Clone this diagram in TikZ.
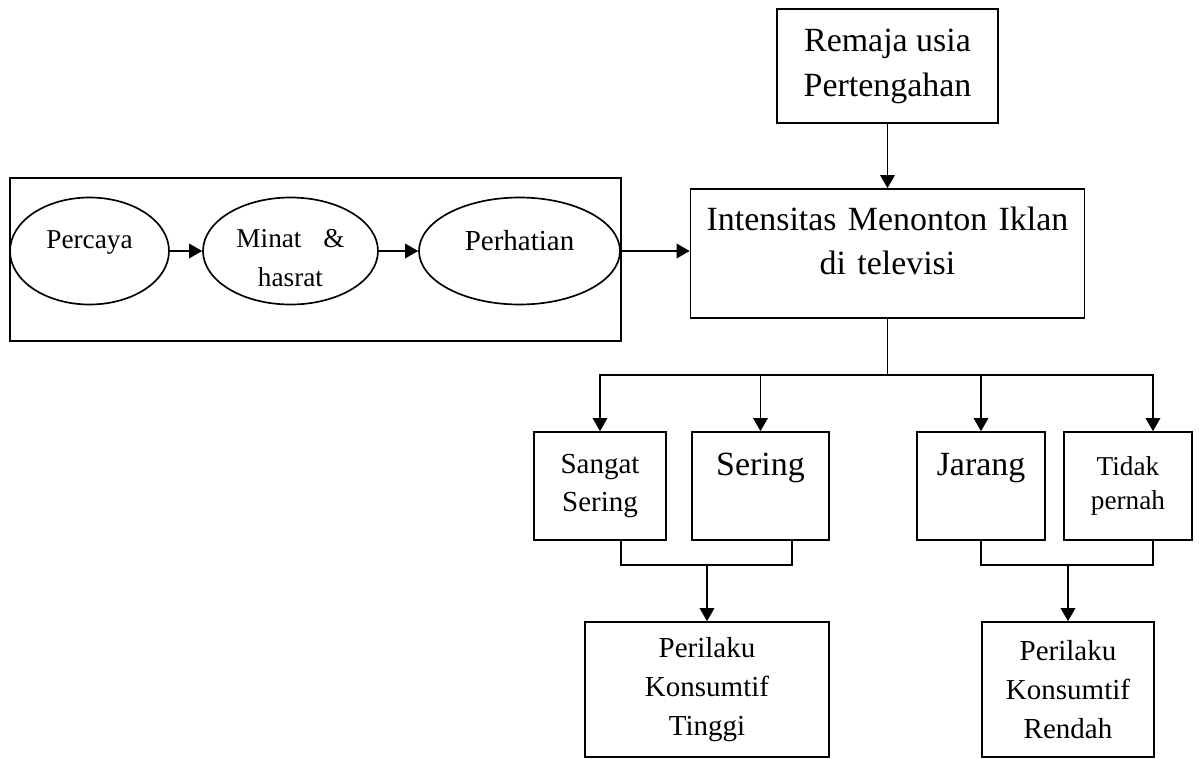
\documentclass[tikz,border=0pt]{standalone}
\usepackage{fontspec}
\setmainfont{Liberation Serif}
\usetikzlibrary{arrows.meta,shapes.geometric}

\begin{document}
\begin{tikzpicture}[
    kotak/.style={rectangle, draw=black, line width=0.95pt, fill=white, align=center},
    bulat/.style={ellipse, draw=black, line width=0.95pt, fill=white, inner sep=0pt},
    panah/.style={-{Triangle[length=2.6mm,width=2.9mm]}, line width=0.95pt},
    garis/.style={line width=0.95pt},
    besar/.style={font=\fontsize{19.3}{25.6}\selectfont},
    sedang/.style={font=\fontsize{16.5}{22}\selectfont},
    kecil/.style={font=\fontsize{15.5}{19.8}\selectfont}
]
    \useasboundingbox (0,0) rectangle (23.98,-15.18);

    % kotak kiri dengan tiga tahap
    \node[kotak, minimum width=12.22cm, minimum height=3.26cm] at (6.31,-5.19) (wadah) {};
    \node[bulat, kecil, minimum width=3.18cm, minimum height=2.14cm, text height=0.36cm, text depth=0.48cm] at (1.79,-5.02) (percaya) {Percaya};
    \node[bulat, kecil, minimum width=3.5cm, minimum height=2.14cm, text width=2.4cm, align=center, text height=0.36cm, text depth=0.52cm] at (5.81,-5.02) (minat) {Minat\hspace{0.8em}\&\\[0.1cm]hasrat};
    \node[bulat, sedang, minimum width=4.02cm, minimum height=2.14cm, text height=0.38cm, text depth=0.42cm] at (10.39,-5.02) (perhatian) {Perhatian};

    \draw[panah] (percaya) -- (minat);
    \draw[panah] (minat) -- (perhatian);

    % kotak utama
    \node[kotak, besar, minimum width=4.42cm, minimum height=2.28cm] at (17.75,-1.32) (remaja) {Remaja usia\\Pertengahan};
    \node[kotak, besar, text width=7.4cm, inner xsep=0pt, minimum width=7.88cm, minimum height=2.58cm, text height=0.5cm, text depth=1.44cm] at (17.75,-5.07) (iklan) {Intensitas Menonton Iklan\\di televisi};

    \draw[panah] (remaja) -- (iklan);
    \draw[panah] (perhatian.east) -- (perhatian.east -| iklan.west);

    % tingkat intensitas
    \node[kotak, sedang, minimum width=2.64cm, minimum height=2.16cm] at (12.0,-9.72) (sangat) {Sangat\\Sering};
    \node[kotak, besar, minimum width=2.74cm, minimum height=2.16cm, text height=0.5cm, text depth=0.94cm] at (15.21,-9.72) (sering) {Sering};
    \node[kotak, besar, minimum width=2.56cm, minimum height=2.16cm, text height=0.5cm, text depth=0.94cm] at (19.62,-9.72) (jarang) {Jarang};
    \node[kotak, kecil, minimum width=2.56cm, minimum height=2.16cm] at (22.56,-9.72) (tidak) {Tidak\\pernah};

    \coordinate (cabang) at (17.75,-7.5);
    \draw[garis] (iklan.south) -- (cabang);
    \draw[panah] (cabang) -| (sangat);
    \draw[panah] (cabang) -| (sering);
    \draw[panah] (cabang) -| (jarang);
    \draw[panah] (cabang) -| ([xshift=0.5cm]tidak.north);

    % hasil perilaku
    \node[kotak, sedang, minimum width=4.88cm, minimum height=2.7cm] at (14.14,-13.79) (tinggi) {Perilaku\\Konsumtif\\Tinggi};
    \node[kotak, sedang, minimum width=3.44cm, minimum height=2.7cm] at (21.36,-13.79) (rendah) {Perilaku\\Konsumtif\\Rendah};

    \coordinate (gabung1) at (14.14,-11.3);
    \coordinate (gabung2) at (21.36,-11.3);
    \draw[garis] ([xshift=0.42cm]sangat.south) |- (gabung1) -| ([xshift=0.63cm]sering.south);
    \draw[garis] (jarang.south) |- (gabung2) -| ([xshift=0.5cm]tidak.south);
    \draw[panah] (gabung1) -- (tinggi);
    \draw[panah] (gabung2) -- (rendah);
\end{tikzpicture}
\end{document}
